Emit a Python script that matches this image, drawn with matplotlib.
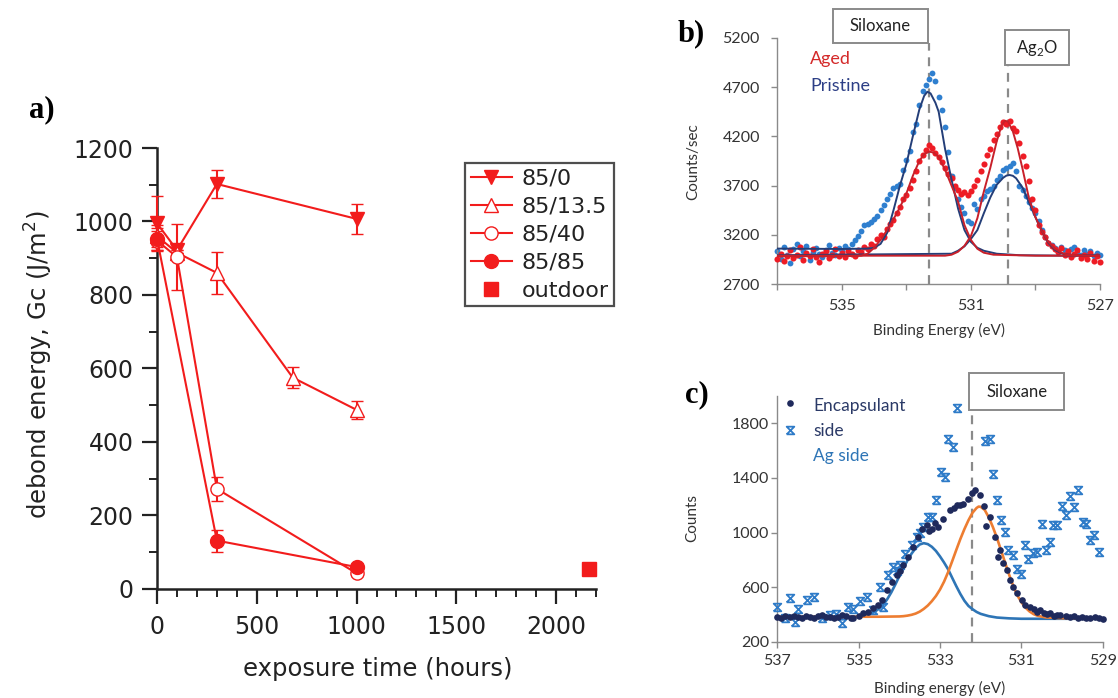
import numpy as np
import matplotlib
matplotlib.use('Agg')
import matplotlib.pyplot as plt
from matplotlib.lines import Line2D
from matplotlib.patches import Rectangle
from matplotlib.path import Path

# ---------------- panel a data ----------------
t_85_0 = [0, 100, 300, 1000]
g_85_0 = [995, 922, 1102, 1007]
e_85_0 = [75, 0, 37, 40]

t_85_135 = [0, 100, 300, 680, 1000]
g_85_135 = [960, 915, 860, 575, 487]
e_85_135 = [30, 0, 57, 29, 24]

t_85_40 = [0, 100, 300, 1000]
g_85_40 = [948, 903, 272, 42]
e_85_40 = [25, 91, 33, 8]

t_85_85 = [0, 300, 1000]
g_85_85 = [953, 131, 59]
e_85_85 = [30, 30, 8]

t_outdoor = [2165]
g_outdoor = [55]

# ---------------- panel b data ----------------
E_scan_b = np.linspace(537.0, 527.0, 101)
aged_counts = [2960, 3010, 2940, 2990, 3050, 2970, 3000, 3080, 2950, 3020,
               2990, 3060, 2980, 2930, 3010, 3040, 2970, 3000, 3060, 2990,
               3020, 2980, 3040, 3010, 2990, 3050, 3030, 3080, 3060, 3110,
               3090, 3160, 3200, 3180, 3260, 3310, 3350, 3420, 3480, 3560,
               3610, 3680, 3760, 3850, 3950, 4010, 4060, 4110, 4080, 4030,
               3990, 3940, 3880, 3820, 3780, 3700, 3660, 3620, 3640, 3610,
               3650, 3700, 3760, 3850, 3920, 4010, 4070, 4160, 4220, 4290,
               4350, 4330, 4360, 4280, 4250, 4130, 4000, 3900, 3750, 3560,
               3450, 3300, 3230, 3180, 3120, 3090, 3060, 3030, 3070, 3000,
               3040, 2980, 3010, 3050, 2970, 3000, 2960, 3020, 2940, 2990,
               2930]
pristine_counts = [3040, 2960, 3080, 3000, 2920, 3060, 3110, 2990, 3040, 3090,
                   2950, 3030, 3070, 3010, 2980, 3050, 3100, 3020, 3000, 3070,
                   3040, 3090, 3060, 3110, 3150, 3190, 3240, 3300, 3310, 3330,
                   3360, 3390, 3450, 3500, 3560, 3620, 3680, 3700, 3720, 3860,
                   3960, 4050, 4240, 4330, 4520, 4660, 4720, 4780, 4840, 4760,
                   4600, 4470, 4290, 4040, 3800, 3680, 3560, 3480, 3420, 3340,
                   3320, 3510, 3460, 3560, 3600, 3650, 3670, 3700, 3760, 3800,
                   3860, 3880, 3900, 3930, 3850, 3700, 3660, 3600, 3530, 3470,
                   3420, 3340, 3250, 3180, 3120, 3100, 3070, 3040, 3080, 3050,
                   3010, 3060, 3080, 3020, 3000, 3050, 3010, 3040, 2990, 3020,
                   3000]

fitE_pris_silox = [537.0, 536.0, 535.0, 534.6, 534.2, 534.0, 533.8, 533.6, 533.4, 533.2,
                   533.0, 532.8, 532.6, 532.45, 532.35, 532.25, 532.1, 532.0, 531.8, 531.6,
                   531.4, 531.2, 531.0, 530.8, 530.6, 530.2, 529.5, 528.0, 527.0]
fitC_pris_silox = [3062, 3060, 3058, 3060, 3062, 3070, 3110, 3220, 3450, 3700,
                   3920, 4200, 4470, 4610, 4652, 4635, 4540, 4450, 4070, 3760,
                   3470, 3250, 3130, 3070, 3040, 3010, 2995, 2990, 2990]
fitE_pris_ag2o = [537.0, 531.6, 531.4, 531.2, 531.0, 530.8, 530.6, 530.4, 530.2, 530.0,
                  529.9, 529.8, 529.7, 529.6, 529.4, 529.2, 529.0, 528.8, 528.6, 528.4,
                  528.2, 528.0, 527.0]
fitC_pris_ag2o = [2995, 3010, 3040, 3085, 3160, 3250, 3420, 3580, 3710, 3780,
                  3802, 3808, 3800, 3775, 3680, 3530, 3380, 3240, 3120, 3050,
                  3015, 3000, 2990]
fitE_aged_silox = [537.0, 535.0, 534.4, 534.2, 534.0, 533.8, 533.6, 533.4, 533.2, 533.0,
                   532.8, 532.6, 532.45, 532.3, 532.15, 532.0, 531.8, 531.6, 531.4, 531.2,
                   531.0, 530.8, 530.6, 530.3, 529.0, 527.0]
fitC_aged_silox = [2985, 2985, 2990, 3010, 3070, 3150, 3250, 3360, 3480, 3620,
                   3800, 3950, 4020, 4045, 4035, 3990, 3860, 3700, 3540, 3300,
                   3150, 3060, 3020, 3000, 2990, 2990]
fitE_aged_ag2o = [537.0, 531.8, 531.6, 531.4, 531.2, 531.0, 530.8, 530.6, 530.4, 530.2,
                  530.05, 529.95, 529.85, 529.7, 529.55, 529.4, 529.2, 529.0, 528.8, 528.6,
                  528.4, 528.2, 528.0, 527.0]
fitC_aged_ag2o = [2990, 2990, 3000, 3030, 3090, 3190, 3370, 3640, 3880, 4150,
                  4310, 4358, 4350, 4250, 4080, 3870, 3570, 3380, 3240, 3130,
                  3060, 3020, 3000, 2985]

# ---------------- panel c data ----------------
encap_E = [537.0, 536.9, 536.8, 536.7, 536.6, 536.5, 536.4, 536.3, 536.2, 536.1,
           536.0, 535.9, 535.8, 535.7, 535.6, 535.5, 535.4, 535.3, 535.2, 535.13,
           534.89, 534.64, 534.43, 534.31, 534.19, 534.06, 533.90, 533.78, 533.66, 533.53,
           533.45, 533.33, 533.20, 533.04, 532.92, 532.75, 532.59, 532.43, 532.30, 532.14,
           532.02, 531.93, 531.77, 531.65, 531.52, 531.36, 531.20, 530.99, 530.79, 530.54,
           530.30, 530.05, 529.9, 529.8, 529.7, 529.6, 529.5, 529.4, 529.3, 529.2, 529.1, 529.0,
           535.0, 534.76, 534.52, 533.98, 533.26, 533.12, 532.66, 532.51, 532.22, 531.86,
           531.58, 531.44, 531.28, 531.1, 530.9, 530.7, 530.62, 530.45, 530.38, 530.2, 530.12]
encap_C = [380, 372, 385, 378, 390, 380, 375, 388, 382, 370,
           385, 392, 378, 384, 372, 380, 392, 385, 376, 371,
           407, 444, 505, 578, 639, 687, 760, 821, 894, 967,
           1028, 1053, 1028, 1040, 1101, 1162, 1199, 1211, 1248, 1308,
           1272, 1191, 1113, 967, 870, 723, 602, 504, 456, 431,
           407, 395, 390, 380, 388, 372, 380, 376, 370, 378, 372, 368,
           390, 420, 470, 720, 1010, 1070, 1180, 1205, 1290, 1050,
           820, 780, 650, 560, 470, 440, 420, 410, 400, 385, 392]
agside_E = [537.0, 536.81, 536.69, 536.57, 536.48, 536.28, 536.11, 535.91, 535.7, 535.42,
            535.25, 535.13, 534.97, 534.8, 534.64, 534.48, 534.39, 534.27, 534.15, 533.98,
            533.86, 533.7, 533.57, 533.41, 533.29, 533.2, 533.1, 532.98, 532.88, 532.8,
            532.69, 532.59, 531.89, 531.77, 531.7, 531.59, 531.51, 531.39, 531.32, 531.2,
            531.11, 531.02, 530.91, 530.83, 530.72, 530.62, 530.5, 530.4, 530.3, 530.21,
            530.13, 530.01, 529.9, 529.8, 529.7, 529.6, 529.49, 529.41, 529.31, 529.21,
            529.08, 535.55, 534.05, 533.48]
agside_C = [456, 370, 517, 346, 436, 504, 529, 370, 395, 334,
            456, 443, 497, 529, 431, 602, 456, 687, 748, 760,
            845, 906, 967, 1040, 1113, 1113, 1235, 1442, 1410, 1685,
            1630, 1909, 1668, 1685, 1425, 1235, 1094, 1003, 870, 838,
            736, 694, 906, 809, 850, 857, 1064, 870, 930, 1052,
            1052, 1191, 1125, 1264, 1186, 1308, 1077, 1060, 948, 979,
            857, 400, 720, 1000]
fitE_c_blue = [537.0, 535.5, 535.0, 534.9, 534.8, 534.7, 534.6, 534.5, 534.4, 534.3,
               534.2, 534.1, 534.0, 533.9, 533.8, 533.7, 533.6, 533.5, 533.4, 533.3,
               533.2, 533.1, 533.0, 532.9, 532.8, 532.7, 532.6, 532.5, 532.4, 532.3,
               532.2, 532.1, 532.0, 531.8, 531.6, 531.3, 531.0, 529.0]
fitC_c_blue = [380, 382, 385, 389, 395, 405, 420, 442, 470, 510,
               560, 618, 680, 740, 795, 845, 885, 912, 922, 915,
               895, 865, 825, 780, 730, 668, 607, 550, 500, 462,
               438, 418, 404, 387, 377, 371, 368, 368]
fitE_c_orange = [537.0, 534.5, 534.0, 533.9, 533.8, 533.7, 533.6, 533.5, 533.4, 533.3,
                 533.2, 533.1, 533.0, 532.9, 532.8, 532.7, 532.6, 532.5, 532.4, 532.3,
                 532.2, 532.1, 532.05, 532.0, 531.9, 531.8, 531.7, 531.6, 531.5, 531.4,
                 531.3, 531.2, 531.1, 531.0, 530.9, 530.8, 530.7, 530.6, 530.4, 530.0, 529.0]
fitC_c_orange = [383, 383, 385, 387, 391, 397, 406, 420, 440, 465,
                 497, 535, 582, 640, 710, 790, 872, 952, 1025, 1090,
                 1145, 1180, 1190, 1188, 1165, 1110, 1040, 960, 870, 780,
                 690, 610, 540, 490, 450, 422, 402, 390, 378, 372, 370]

# ---------------- figure ----------------
W, H = 1118, 698
fig = plt.figure(figsize=(W / 100, H / 100), dpi=100)
fig.patch.set_facecolor('white')

def fx(px):
    return px / W

def fy(py):
    return 1 - py / H

RED = '#f21c1c'
axa = fig.add_axes([fx(157), fy(588.7), fx(596) - fx(157), fy(148) - fy(588.7)])
series = [
    (t_85_0, g_85_0, e_85_0, 'v', RED, 10.5),
    (t_85_135, g_85_135, e_85_135, '^', 'white', 10),
    (t_85_40, g_85_40, e_85_40, 'o', 'white', 9.5),
    (t_85_85, g_85_85, e_85_85, 'o', RED, 10),
]
for t, g, e, m, fc, ms in series:
    axa.errorbar(t, g, yerr=e, fmt='-', marker=m, color=RED, mfc=fc, mec=RED,
                 ms=ms, mew=1.0, lw=1.5, elinewidth=1.5, capsize=4.5, capthick=1.5,
                 clip_on=False, zorder=3)
axa.plot(t_outdoor, g_outdoor, 's', color=RED, ms=9.5, clip_on=False, zorder=3)

axa.set_xlim(0, 2200)
axa.set_ylim(0, 1200)
axa.set_xticks([0, 500, 1000, 1500, 2000])
axa.set_xticks(np.arange(0, 2201, 100), minor=True)
axa.set_yticks([0, 200, 400, 600, 800, 1000, 1200])
axa.set_yticks(np.arange(0, 1201, 100), minor=True)
for s in ['top', 'right']:
    axa.spines[s].set_visible(False)
for s in ['left', 'bottom']:
    axa.spines[s].set_linewidth(1.8)
    axa.spines[s].set_color('#222222')
axa.tick_params(which='major', length=11, width=1.6, color='#222222', labelsize=17,
                labelcolor='#222222', pad=6)
axa.tick_params(which='minor', length=5.5, width=1.4, color='#222222')
axa.tick_params(axis='x', which='major', pad=8)
axa.set_xlabel('exposure time (hours)', fontsize=17.5, color='#222222')
axa.xaxis.set_label_coords(0.502, -0.155)
axa.xaxis.label.set_va('top')
axa.set_ylabel('debond energy, Gc (J/m$^{2}$)', fontsize=17.5, color='#222222')
axa.yaxis.set_label_coords(-0.232, 0.509)

handles = [
    Line2D([], [], color=RED, lw=1.5, marker='v', ms=10.5, mfc=RED, mec=RED),
    Line2D([], [], color=RED, lw=1.5, marker='^', ms=10, mfc='white', mec=RED, mew=1.0),
    Line2D([], [], color=RED, lw=1.5, marker='o', ms=9.5, mfc='white', mec=RED, mew=1.0),
    Line2D([], [], color=RED, lw=1.5, marker='o', ms=10, mfc=RED, mec=RED),
    Line2D([], [], color=RED, lw=0, marker='s', ms=9.5, mfc=RED, mec=RED),
]
labels = ['85/0', '85/13.5', '85/40', '85/85', 'outdoor']
leg = axa.legend(handles, labels, loc='upper left', bbox_to_anchor=(fx(465), fy(163)),
                 bbox_transform=fig.transFigure, borderaxespad=0, fontsize=16,
                 frameon=True, fancybox=False, edgecolor='#222222', handlelength=1.85,
                 handletextpad=0.45, labelspacing=0.36, borderpad=0.25)
leg.get_frame().set_linewidth(1.6)
for txt in leg.get_texts():
    txt.set_color('#222222')

fig.text(fx(41.5), fy(110), 'a)', family='Liberation Serif', weight='bold', fontsize=22,
         ha='center', va='center')

# ---------------- panel b ----------------
GRAY = '#8a8a8a'
FONT2 = 'Lato'
axb = fig.add_axes([fx(777.3), fy(284.3), fx(1100) - fx(777.3), fy(37.7) - fy(284.3)])
axb.plot(E_scan_b, pristine_counts, 'o', color='#2f7fcf', ms=4.2, mew=0, zorder=2, clip_on=False)
axb.plot(E_scan_b, aged_counts, 'o', color='#ee1c25', ms=4.4, mew=0, zorder=3, clip_on=False)
axb.plot(fitE_pris_silox, fitC_pris_silox, '-', color='#243e78', lw=1.4, zorder=4)
axb.plot(fitE_pris_ag2o, fitC_pris_ag2o, '-', color='#243e78', lw=1.4, zorder=4)
axb.plot(fitE_aged_silox, fitC_aged_silox, '-', color='#c8202a', lw=1.4, zorder=4)
axb.plot(fitE_aged_ag2o, fitC_aged_ag2o, '-', color='#c8202a', lw=1.4, zorder=4)
axb.set_xlim(537, 527)
axb.set_ylim(2700, 5200)
axb.set_xticks([537, 535, 533, 531, 529, 527])
axb.set_xticklabels(['', '535', '', '531', '', '527'])
axb.set_yticks([2700, 3200, 3700, 4200, 4700, 5200])
for s in ['top', 'right']:
    axb.spines[s].set_visible(False)
for s in ['left', 'bottom']:
    axb.spines[s].set_color(GRAY)
    axb.spines[s].set_linewidth(1.0)
axb.tick_params(length=4.5, width=1.0, color=GRAY, labelsize=11.5, labelcolor='#333333')
axb.tick_params(axis='y', pad=8)
axb.tick_params(axis='x', pad=6)
for lab in axb.get_xticklabels() + axb.get_yticklabels():
    lab.set_family(FONT2)
axb.set_xlabel('Binding Energy (eV)', family=FONT2, fontsize=11, color='#333333')
axb.set_ylabel('Counts/sec', family=FONT2, fontsize=11, color='#333333')
axb.yaxis.set_label_coords((693 - 777.3) / 322.7, (284.3 - 161.7) / 246.6)
axb.yaxis.label.set_va('center')
axb.xaxis.set_label_coords(0.5, (284.3 - 330) / 246.6)
axb.xaxis.label.set_va('center')

axb.axvline(532.29, ymin=0, ymax=0.979, color=GRAY, lw=1.6, ls=(0, (4, 3)), zorder=1)
axb.axvline(529.84, ymin=0, ymax=0.889, color=GRAY, lw=1.6, ls=(0, (4, 3)), zorder=1)
for (x0, x1, y0, y1, txt) in [(0.1726, 0.467, 0.9786, 1.1164, 'Siloxane'),
                              (0.7056, 0.904, 0.889, 1.0312, 'Ag$_{\\mathregular{2}}$O')]:
    axb.add_patch(Rectangle((x0, y0), x1 - x0, y1 - y0, transform=axb.transAxes,
                            fc='white', ec=GRAY, lw=1.4, clip_on=False, zorder=5))
    axb.text((x0 + x1) / 2, (y0 + y1) / 2, txt, transform=axb.transAxes, ha='center',
             va='center', family=FONT2, fontsize=12, color='#222222', zorder=6)
axb.text((810 - 777.3) / 322.7, (284.3 - 59) / 246.6, 'Aged', transform=axb.transAxes,
         family=FONT2, fontsize=13, color='#d42a2a', va='center', ha='left')
axb.text((810 - 777.3) / 322.7, (284.3 - 86) / 246.6, 'Pristine', transform=axb.transAxes,
         family=FONT2, fontsize=13, color='#2d3f86', va='center', ha='left')
fig.text(fx(691), fy(34), 'b)', family='Liberation Serif', weight='bold', fontsize=22,
         ha='center', va='center')

# ---------------- panel c ----------------
axc = fig.add_axes([fx(777.3), fy(641.7), fx(1102.7) - fx(777.3), fy(396) - fy(641.7)])
hourglass = Path([(-1, -1), (1, -1), (-1, 1), (1, 1), (-1, -1)],
                 [Path.MOVETO, Path.LINETO, Path.LINETO, Path.LINETO, Path.LINETO])
axc.plot(fitE_c_blue, fitC_c_blue, '-', color='#2e75b6', lw=1.9, zorder=2)
axc.plot(fitE_c_orange, fitC_c_orange, '-', color='#ed7d31', lw=1.9, zorder=2)
axc.plot(agside_E, agside_C, ls='none', marker=hourglass, ms=5.5, mfc='none', mec='#2e7bc8',
         mew=1.3, zorder=3, clip_on=False)
axc.plot(encap_E, encap_C, 'o', color='#1f2a5c', ms=4.8, mew=0, zorder=4, clip_on=False)
axc.set_xlim(537, 529)
axc.set_ylim(200, 2000)
axc.set_xticks([537, 535, 533, 531, 529])
axc.set_yticks([200, 600, 1000, 1400, 1800])
for s in ['top', 'right']:
    axc.spines[s].set_visible(False)
for s in ['left', 'bottom']:
    axc.spines[s].set_color(GRAY)
    axc.spines[s].set_linewidth(1.0)
axc.tick_params(length=4.5, width=1.0, color=GRAY, labelsize=11.5, labelcolor='#333333')
axc.tick_params(axis='y', pad=1.5)
axc.tick_params(axis='x', pad=4)
for lab in axc.get_xticklabels() + axc.get_yticklabels():
    lab.set_family(FONT2)
axc.set_xlabel('Binding energy (eV)', family=FONT2, fontsize=11, color='#333333')
axc.xaxis.set_label_coords(0.5, (641.7 - 688) / 245.7)
axc.xaxis.label.set_va('center')
axc.set_ylabel('Counts', family=FONT2, fontsize=11, color='#333333')
axc.yaxis.set_label_coords((692 - 777.3) / 325.4, (641.7 - 518) / 245.7)
axc.yaxis.label.set_va('center')

axc.axvline(532.22, ymin=0, ymax=0.943, color=GRAY, lw=1.6, ls=(0, (4, 3)), zorder=1)
x0, x1, y0, y1 = 0.590, 0.881, 0.943, 1.0924
axc.add_patch(Rectangle((x0, y0), x1 - x0, y1 - y0, transform=axc.transAxes,
                        fc='white', ec=GRAY, lw=1.4, clip_on=False, zorder=5))
axc.text((x0 + x1) / 2, (y0 + y1) / 2, 'Siloxane', transform=axc.transAxes, ha='center',
         va='center', family=FONT2, fontsize=12, color='#222222', zorder=6)
# legend
axc.plot([0.039], [0.970], 'o', color='#1f2a5c', ms=4.8, mew=0, transform=axc.transAxes,
         clip_on=False)
axc.plot([0.039], [0.862], ls='none', marker=hourglass, ms=5.5, mfc='none', mec='#2e7bc8',
         mew=1.3, transform=axc.transAxes, clip_on=False)
axc.text(0.1106, 0.959, 'Encapsulant', transform=axc.transAxes, family=FONT2, fontsize=12.5,
         color='#2b3a67', va='center', ha='left')
axc.text(0.1106, 0.8576, 'side', transform=axc.transAxes, family=FONT2, fontsize=12.5,
         color='#2b3a67', va='center', ha='left')
axc.text(0.1106, 0.756, 'Ag side', transform=axc.transAxes, family=FONT2, fontsize=12.5,
         color='#2e75b6', va='center', ha='left')
fig.text(fx(697), fy(395), 'c)', family='Liberation Serif', weight='bold', fontsize=22,
         ha='center', va='center')

fig.savefig('out.png', dpi=100, facecolor='white')
